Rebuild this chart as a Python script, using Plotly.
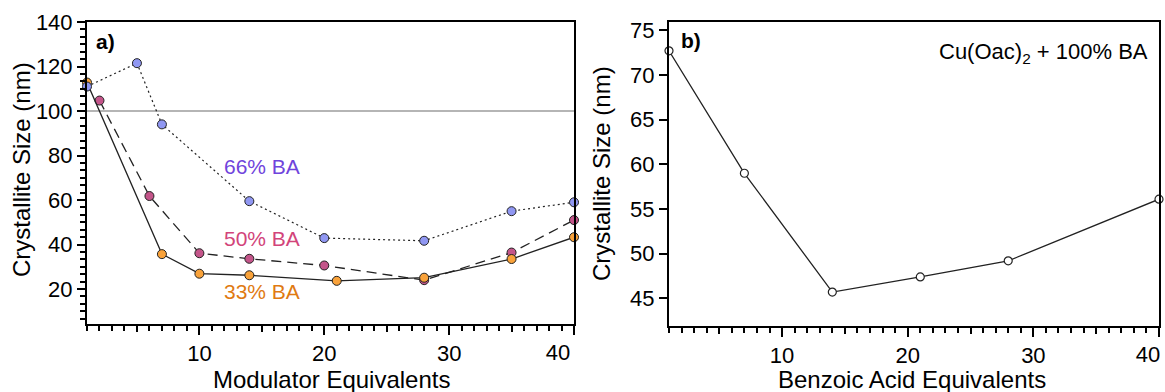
import plotly.graph_objects as go

# ---------------- data ----------------
x_33 = [1, 7, 10, 14, 21, 28, 35, 40]
y_33 = [112.8, 35.7, 26.9, 26.2, 23.7, 25.1, 33.5, 43.3]

x_50 = [2, 6, 10, 14, 20, 28, 35, 40]
y_50 = [104.7, 61.8, 36.1, 33.6, 30.6, 24.0, 36.4, 51.0]

x_66 = [1, 5, 7, 14, 20, 28, 35, 40]
y_66 = [111.0, 121.5, 94.0, 59.5, 42.9, 41.7, 55.0, 59.0]

x_b = [1, 7, 14, 21, 28, 40]
y_b = [72.7, 59.0, 45.7, 47.4, 49.2, 56.1]

x_ticks = [10, 20, 30]
x_end_tick = [40]
ya_ticks = [20, 40, 60, 80, 100, 120, 140]
yb_ticks = [45, 50, 55, 60, 65, 70, 75]
medium_ticks = [5, 15, 25, 35]
ref_line_value = 100

W, H = 1165, 392
FONT = "Liberation Sans, Arial, sans-serif"

def px(x):
    return x / W

def py(y):
    return 1 - y / H

fig = go.Figure()

# panel a traces (pink, orange, blue order for layering)
fig.add_trace(go.Scatter(x=x_50, y=y_50, mode="lines+markers", xaxis="x", yaxis="y",
                         line=dict(color="#222222", width=1.3, dash="10px,6px"),
                         marker=dict(size=9, color="#c4558a", line=dict(color="#222222", width=1)),
                         cliponaxis=False, showlegend=False))
fig.add_trace(go.Scatter(x=x_33, y=y_33, mode="lines+markers", xaxis="x", yaxis="y",
                         line=dict(color="#222222", width=1.3),
                         marker=dict(size=9, color="#f9a23a", line=dict(color="#222222", width=1)),
                         cliponaxis=False, showlegend=False))
fig.add_trace(go.Scatter(x=x_66, y=y_66, mode="lines+markers", xaxis="x", yaxis="y",
                         line=dict(color="#222222", width=1.2, dash="2px,3px"),
                         marker=dict(size=9, color="#9097f2", line=dict(color="#222222", width=1)),
                         cliponaxis=False, showlegend=False))

# panel b
fig.add_trace(go.Scatter(x=x_b, y=y_b, mode="lines+markers", xaxis="x2", yaxis="y2",
                         line=dict(color="#222222", width=1.3),
                         marker=dict(size=8, color="white", line=dict(color="#222222", width=1.2)),
                         cliponaxis=False, showlegend=False))

# gray reference line at 100 in panel a
fig.add_shape(type="line", xref="x domain", yref="y", x0=0, x1=1,
              y0=ref_line_value, y1=ref_line_value,
              line=dict(color="#b5b5b5", width=2), layer="below")

tickfont = dict(family=FONT, size=22, color="black")

xa_common = dict(showgrid=False, zeroline=False, showline=True, linecolor="black", linewidth=2,
                 mirror=True, ticks="outside", ticklen=9, tickwidth=2, tickcolor="black",
                 tickfont=tickfont, tickmode="array", tickvals=x_ticks + x_end_tick,
                 ticktext=[str(v) for v in x_ticks] + [""],
                 minor=dict(dtick=1, tick0=0, ticks="outside", ticklen=5, tickwidth=1.5, tickcolor="black"),
                 automargin=False)

# overlay axis: medium ticks at 5,15,25,35 plus the shifted "40" label at the axis end
overlay_common = dict(side="bottom", showgrid=False, zeroline=False, showline=False,
                      ticks="outside", ticklen=7, tickwidth=1.8, tickcolor="black",
                      tickmode="array", tickvals=medium_ticks + x_end_tick,
                      ticktext=[""] * len(medium_ticks) + [str(v) for v in x_end_tick],
                      tickfont=tickfont, ticklabelstandoff=2, ticklabeloverflow="allow",
                      automargin=False)

fig.update_layout(
    width=W, height=H,
    margin=dict(l=0, r=0, t=0, b=0),
    paper_bgcolor="white", plot_bgcolor="white",
    template=None,
    xaxis=dict(domain=[px(87), px(574)], range=[1, 40], anchor="y", **xa_common),
    yaxis=dict(domain=[py(324), py(22)], range=[4.3, 140], anchor="x",
               showgrid=False, zeroline=False, showline=True, linecolor="black", linewidth=2,
               mirror=True, ticks="outside", ticklen=8, tickwidth=2, tickcolor="black",
               tickfont=tickfont, tickmode="array", tickvals=ya_ticks,
               minor=dict(dtick=20 / 6, tick0=0, ticks="outside", ticklen=5, tickwidth=1.5, tickcolor="black"),
               automargin=False),
    xaxis2=dict(domain=[px(669), px(1159)], range=[1, 40], anchor="y2", **xa_common),
    yaxis2=dict(domain=[py(325.7), py(22)], range=[41.94, 75.93], anchor="x2",
                showgrid=False, zeroline=False, showline=True, linecolor="black", linewidth=2,
                mirror=True, ticks="outside", ticklen=8, tickwidth=2, tickcolor="black",
                tickfont=tickfont, tickmode="array", tickvals=yb_ticks, automargin=False),
    xaxis3=dict(overlaying="x", matches="x", anchor="y", ticklabelshift=-16, **overlay_common),
    xaxis4=dict(overlaying="x2", matches="x2", anchor="y2", ticklabelshift=-11, **overlay_common),
)

# empty traces that activate the overlay axes
fig.add_trace(go.Scatter(x=[None], y=[None], xaxis="x3", yaxis="y", showlegend=False, hoverinfo="skip"))
fig.add_trace(go.Scatter(x=[None], y=[None], xaxis="x4", yaxis="y2", showlegend=False, hoverinfo="skip"))

title_font = dict(family=FONT, size=24, color="black")

annotations = [
    dict(text="Crystallite Size (nm)", x=px(21), y=py(170), textangle=-90, font=title_font),
    dict(text="Crystallite Size (nm)", x=px(601), y=py(174), textangle=-90, font=title_font),
    dict(text="Modulator Equivalents", x=px(331), y=py(379), font=title_font),
    dict(text="Benzoic Acid Equivalents", x=px(912), y=py(379), font=title_font),
    dict(text="<b>a)</b>", x=px(105.5), y=py(42), font=dict(family=FONT, size=21, color="black")),
    dict(text="<b>b)</b>", x=px(691), y=py(41), font=dict(family=FONT, size=21, color="black")),
    dict(text="Cu(Oac)<sub>2</sub> + 100% BA", x=px(1150), y=py(53), xanchor="right",
         font=dict(family=FONT, size=22, color="black")),
    dict(text="66% BA", x=px(261.5), y=py(166.5), font=dict(family=FONT, size=21, color="#7044dc")),
    dict(text="50% BA", x=px(261.5), y=py(238.5), font=dict(family=FONT, size=21, color="#d2447a")),
    dict(text="33% BA", x=px(261.5), y=py(291.5), font=dict(family=FONT, size=21, color="#e07a12")),
]
for a in annotations:
    a.setdefault("xanchor", "center")
    a.update(xref="paper", yref="paper", yanchor="middle", showarrow=False)
    fig.add_annotation(**a)

fig.write_html("out.html")
